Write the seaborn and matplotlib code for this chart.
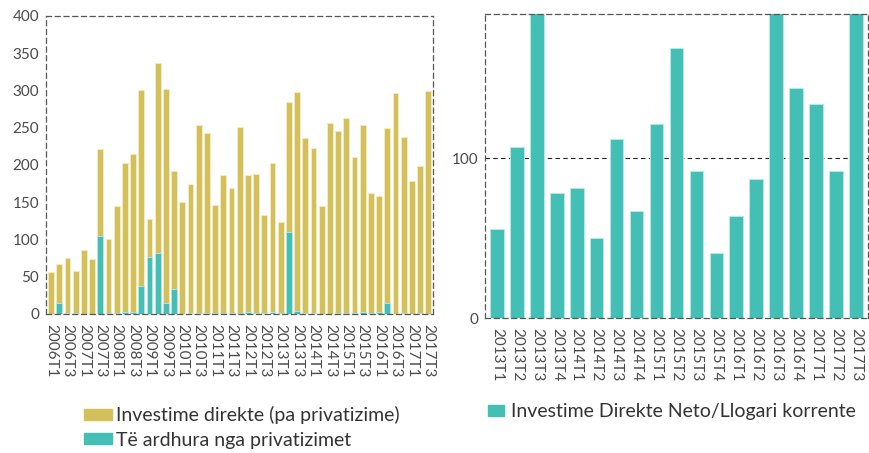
import matplotlib
matplotlib.use("Agg")
import matplotlib.pyplot as plt
from matplotlib.patches import Patch
import numpy as np
import pandas as pd
import seaborn as sns

# Grafiku majtas: investimet direkte sipas tremujorëve 2006T1 - 2017T3
tremujoret = [f"{v}T{t}" for v in range(2006, 2018) for t in range(1, 5)][:47]
privatizime = [0, 15, 1, 1, 0, 0, 105, 1, 1, 2, 3, 37, 76, 82, 15, 33,
               0, 1, 1, 1, 1, 1, 1, 1, 3, 1, 1, 2, 1, 110, 4, 1,
               1, 0, 0, 1, 1, 1, 2, 1, 2, 15, 0, 1, 0, 1, 0]
totali = [56, 67, 75, 57, 86, 74, 221, 100, 145, 202, 214, 300, 128, 337, 302, 192,
          150, 175, 253, 243, 146, 186, 169, 251, 186, 188, 133, 202, 124, 285, 298, 236,
          222, 145, 256, 245, 263, 210, 254, 162, 158, 250, 297, 237, 178, 198, 299]
pa_privatizime = [t - p for t, p in zip(totali, privatizime)]

# Grafiku djathtas: Investime Direkte Neto / Llogari korrente
tremujoret_2 = [f"{v}T{t}" for v in range(2013, 2018) for t in range(1, 5)][:19]
raporti = [55.5, 107, 230, 78, 81, 50, 112, 67, 121, 169, 92, 40.5, 64, 87,
           240, 144, 133.5, 92, 250]

verdhe = "#D4C05A"
gurkali = "#44BFB5"
teksti = "#4a4a4a"

sns.set_style("white")
plt.rcParams["font.family"] = ["Lato", "DejaVu Sans"]
plt.rcParams["text.color"] = "#333333"
plt.rcParams["xtick.color"] = teksti
plt.rcParams["ytick.color"] = teksti

fig = plt.figure(figsize=(8.7, 4.53), dpi=100)
ax1 = fig.add_axes([0.053, 0.307, 0.445, 0.658])
ax2 = fig.add_axes([0.5575, 0.298, 0.44, 0.671])

df1 = pd.DataFrame({"tremujori": tremujoret, "totali": np.array(pa_privatizime) + np.array(privatizime),
                    "privatizime": privatizime})
sns.barplot(data=df1, x="tremujori", y="totali", color=verdhe, saturation=1,
            width=0.7, edgecolor="#F3EDC8", linewidth=0.6, ax=ax1)
sns.barplot(data=df1, x="tremujori", y="privatizime", color=gurkali, saturation=1,
            width=0.7, edgecolor="#BDEAE6", linewidth=0.6, ax=ax1)

ax1.set_ylim(0, 400)
ax1.set_xlim(-0.6, len(tremujoret) - 0.4)
ax1.set_yticks(range(0, 401, 50))
ax1.set_xticks(range(len(tremujoret)))
ax1.set_xticklabels([l if i % 2 == 0 else "" for i, l in enumerate(tremujoret)],
                    rotation=-90, fontsize=11)
ax1.tick_params(axis="y", labelsize=11, length=4, width=0.8, color="#555555", pad=1)
ax1.tick_params(axis="x", length=4, width=0.8, color="#555555", pad=3)
ax1.set_xlabel("")
ax1.set_ylabel("")

df2 = pd.DataFrame({"tremujori": tremujoret_2, "raporti": raporti})
sns.barplot(data=df2, x="tremujori", y="raporti", color=gurkali, saturation=1,
            width=0.68, edgecolor="#BDEAE6", linewidth=0.6, ax=ax2)
ax2.set_ylim(0, 190)
ax2.set_xlim(-0.6, len(tremujoret_2) - 0.4)
ax2.set_yticks([0, 100])
ax2.axhline(100, color="#222222", linestyle=(0, (4, 3)), linewidth=0.8, zorder=0)
ax2.set_xticks(range(len(tremujoret_2)))
ax2.set_xticklabels(tremujoret_2, rotation=-90, fontsize=11)
ax2.set_xticks(np.arange(-0.5, len(tremujoret_2), 1), minor=True)
ax2.tick_params(axis="x", which="major", length=0, pad=7)
ax2.tick_params(axis="x", which="minor", length=4, width=0.8, color="#555555")
ax2.tick_params(axis="y", labelsize=11, length=4, width=0.8, color="#555555", pad=1)
ax2.set_xlabel("")
ax2.set_ylabel("")

for ax in (ax1, ax2):
    for s in ax.spines.values():
        s.set_visible(True)
        s.set_linestyle((0, (4, 3)))
        s.set_color("#555555")
        s.set_linewidth(0.9)

fig.legend(handles=[Patch(color=verdhe, label="Investime direkte (pa privatizime)"),
                    Patch(color=gurkali, label="Të ardhura nga privatizimet")],
           loc="upper left", bbox_to_anchor=(0.097, 0.104), frameon=False, fontsize=14,
           handlelength=1.4, handleheight=0.5, handletextpad=0.2, labelspacing=0.4,
           borderaxespad=0, borderpad=0)
fig.legend(handles=[Patch(color=gurkali, label="Investime Direkte Neto/Llogari korrente")],
           loc="upper left", bbox_to_anchor=(0.561, 0.11), frameon=False, fontsize=14,
           handlelength=0.8, handleheight=0.5, handletextpad=0.4,
           borderaxespad=0, borderpad=0)

fig.savefig("out.png", dpi=100)
